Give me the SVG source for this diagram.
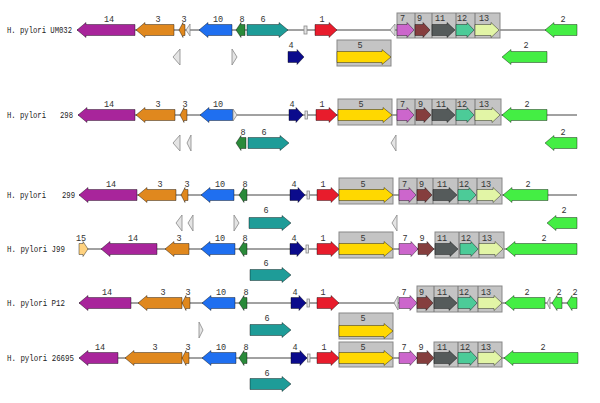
<svg xmlns="http://www.w3.org/2000/svg" width="600" height="403" viewBox="0 0 600 403">
<style>
.bg{fill:#fff}
.bb{stroke:#444;stroke-width:1;fill:none}
.a{stroke:#000;stroke-opacity:.5;stroke-width:.8}
.c14{fill:#a8259b}.c3{fill:#e0881e}.c10{fill:#1f6ff0}.c8{fill:#2a8a3a}.c6{fill:#1e9c98}
.c4{fill:#0b0b8c}.c1{fill:#e81c2c}.c5{fill:#ffd800}.c7{fill:#cc66cc}.c9{fill:#853e3e}
.c11{fill:#555b5b}.c12{fill:#4ccb98}.c13{fill:#e2f5a6}.c2{fill:#44ee44}.c15{fill:#ffd27f}
.h{fill:#e4e4e4;stroke:#888;stroke-width:.8}
.bx{fill:#c4c4c4;stroke:#888;stroke-width:1}
.dv{stroke:#777;stroke-width:1}
.n{font-family:"Liberation Mono","DejaVu Sans Mono",monospace;font-size:8.5px;fill:#333;text-anchor:middle}
.s{font-family:"Liberation Mono","DejaVu Sans Mono",monospace;font-size:8.5px;fill:#333;text-anchor:start}
.sp{font-family:"Liberation Mono","DejaVu Sans Mono",monospace;font-size:9px;fill:#222}
</style>
<rect class="bg" width="600" height="403"/>
<g id="connectors">
<line class="bb" x1="77" y1="30" x2="577" y2="30"/>
<line class="bb" x1="78" y1="115" x2="577" y2="115"/>
<line class="bb" x1="79" y1="195" x2="577" y2="195"/>
<line class="bb" x1="79" y1="249" x2="577" y2="249"/>
<line class="bb" x1="79" y1="303" x2="577" y2="303"/>
<line class="bb" x1="79" y1="358" x2="578" y2="358"/>
</g>

<g id="row-UM032">
<text class="sp" x="7" y="33" textLength="65" lengthAdjust="spacingAndGlyphs">H. pylori UM032</text>
<g id="r1-14"><path class="a c14" d="M77,30 l9,-7.5 v2 H135 v11 H86 v2 z"/><text class="n" x="109" y="22">14</text></g>
<g id="r1-3"><path class="a c3" d="M136,30 l9,-7.5 v2 H174 v11 H145 v2 z"/><text class="n" x="158" y="22">3</text></g>
<g id="r1-3b"><path class="a c3" d="M179,30 l4,-7.5 v2 H185 v11 H183 v2 z"/><text class="n" x="184" y="22">3</text></g>
<g id="r1-h1"><path class="h" d="M186,30 l4,-6 v12 z"/></g>
<g id="r1-10"><path class="a c10" d="M199,30 l9,-7.5 v2 H232 v11 H208 v2 z"/><text class="n" x="218" y="22">10</text></g>
<g id="r1-8"><path class="a c8" d="M236,30 l5,-7.5 v2 H245 v11 H241 v2 z"/><text class="n" x="242" y="22">8</text></g>
<g id="r1-6"><path class="a c6" d="M247,24.5 H279 v-2 l9,7.5 l-9,7.5 v-2 H247 z"/><text class="n" x="263" y="22">6</text></g>
<g id="r1-r"><rect class="h" x="304" y="26" width="3" height="8"/></g>
<g id="r1-1"><path class="a c1" d="M315,24.5 H329 v-2 l8,7.5 l-8,7.5 v-2 H315 z"/><text class="n" x="322" y="22">1</text></g>
<g id="r1-h2"><path class="h" d="M390,30 l5,-6 v12 z"/></g>
<g id="r1-box">
<rect class="bx" x="397" y="13" width="103" height="25"/>
<line class="dv" x1="415" y1="13" x2="415" y2="38"/><line class="dv" x1="432" y1="13" x2="432" y2="38"/><line class="dv" x1="456" y1="13" x2="456" y2="38"/><line class="dv" x1="475" y1="13" x2="475" y2="38"/>
<path class="a c7" d="M397,24.5 H407 v-2 l7,7.5 l-7,7.5 v-2 H397 z"/><text class="s" x="400" y="21">7</text>
<path class="a c9" d="M415,24.5 H423 v-2 l7,7.5 l-7,7.5 v-2 H415 z"/><text class="s" x="417" y="21">9</text>
<path class="a c11" d="M432,24.5 H447 v-2 l8,7.5 l-8,7.5 v-2 H432 z"/><text class="s" x="435" y="21">11</text>
<path class="a c12" d="M456,24.5 H467 v-2 l7,7.5 l-7,7.5 v-2 H456 z"/><text class="s" x="457" y="21">12</text>
<path class="a c13" d="M475,24.5 H491 v-2 l8,7.5 l-8,7.5 v-2 H475 z"/><text class="s" x="479" y="21">13</text>
</g>
<g id="r1-2"><path class="a c2" d="M545,30 l9,-7.5 v2 H577 v11 H554 v2 z"/><text class="n" x="563" y="22">2</text></g>
<g id="r1b-h1"><path class="h" d="M173,57 l7,-8 v16 z"/></g>
<g id="r1b-h2"><path class="h" d="M237,57 l-5,-8 v16 z"/></g>
<g id="r1b-4"><path class="a c4" d="M288,51.5 H297 v-2 l7,7.5 l-7,7.5 v-2 H288 z"/><text class="n" x="291" y="48">4</text></g>
<g id="r1b-5"><rect class="bx" x="337" y="40" width="54" height="26"/><path class="a c5" d="M337,51.5 H382 v-2 l9,7.5 l-9,7.5 v-2 H337 z"/><text class="n" x="360" y="48">5</text></g>
<g id="r1b-2"><path class="a c2" d="M502,57 l9,-7.5 v2 H547 v11 H511 v2 z"/><text class="n" x="526" y="48">2</text></g>
</g>

<g id="row-298">
<text class="sp" x="7" y="118" textLength="39" lengthAdjust="spacingAndGlyphs">H. pylori</text>
<text class="sp" x="60" y="118" textLength="13" lengthAdjust="spacingAndGlyphs">298</text>
<g id="r2-14"><path class="a c14" d="M78,115 l9,-7.5 v2 H135 v11 H87 v2 z"/><text class="n" x="109" y="107">14</text></g>
<g id="r2-3"><path class="a c3" d="M136,115 l9,-7.5 v2 H175 v11 H145 v2 z"/><text class="n" x="158" y="107">3</text></g>
<g id="r2-3b"><path class="a c3" d="M180,115 l4,-7.5 v2 H187 v11 H184 v2 z"/><text class="n" x="185" y="107">3</text></g>
<g id="r2-10"><path class="a c10" d="M200,115 l9,-7.5 v2 H233 v11 H209 v2 z"/><text class="n" x="218" y="107">10</text></g>
<g id="r2-h1"><path class="h" d="M237,115 l-4,-6 v12 z"/></g>
<g id="r2-4"><path class="a c4" d="M289,109.5 H296 v-2 l7,7.5 l-7,7.5 v-2 H289 z"/><text class="n" x="292" y="107">4</text></g>
<g id="r2-r"><rect class="h" x="305" y="111" width="2.5" height="8"/></g>
<g id="r2-1"><path class="a c1" d="M316,109.5 H329 v-2 l8,7.5 l-8,7.5 v-2 H316 z"/><text class="n" x="322" y="107">1</text></g>
<g id="r2-5"><rect class="bx" x="338" y="99" width="54" height="26"/><path class="a c5" d="M338,109.5 H383 v-2 l9,7.5 l-9,7.5 v-2 H338 z"/><text class="n" x="361" y="107">5</text></g>
<g id="r2-box">
<rect class="bx" x="397" y="99" width="104" height="26"/>
<line class="dv" x1="415" y1="99" x2="415" y2="125"/><line class="dv" x1="432" y1="99" x2="432" y2="125"/><line class="dv" x1="456" y1="99" x2="456" y2="125"/><line class="dv" x1="475" y1="99" x2="475" y2="125"/>
<path class="a c7" d="M397,109.5 H407 v-2 l7,7.5 l-7,7.5 v-2 H397 z"/><text class="s" x="400" y="107">7</text>
<path class="a c9" d="M416,109.5 H424 v-2 l7,7.5 l-7,7.5 v-2 H416 z"/><text class="s" x="418" y="107">9</text>
<path class="a c11" d="M432,109.5 H447 v-2 l8,7.5 l-8,7.5 v-2 H432 z"/><text class="s" x="436" y="107">11</text>
<path class="a c12" d="M456,109.5 H467 v-2 l7,7.5 l-7,7.5 v-2 H456 z"/><text class="s" x="457" y="107">12</text>
<path class="a c13" d="M475,109.5 H492 v-2 l8,7.5 l-8,7.5 v-2 H475 z"/><text class="s" x="479" y="107">13</text>
</g>
<g id="r2-2"><path class="a c2" d="M502,115 l9,-7.5 v2 H547 v11 H511 v2 z"/><text class="n" x="527" y="107">2</text></g>
<g id="r2b-h1"><path class="h" d="M173,143 l7,-8 v16 z"/></g>
<g id="r2b-h2"><path class="h" d="M187,143 l4,-8 v16 z"/></g>
<g id="r2b-8"><path class="a c8" d="M236,143 l5,-7.5 v2 H246 v11 H241 v2 z"/><text class="n" x="243" y="135">8</text></g>
<g id="r2b-6"><path class="a c6" d="M248,137.5 H280 v-2 l9,7.5 l-9,7.5 v-2 H248 z"/><text class="n" x="264" y="135">6</text></g>
<g id="r2b-h3"><path class="h" d="M391,143 l5,-8 v16 z"/></g>
<g id="r2b-2"><path class="a c2" d="M545,143 l9,-7.5 v2 H577 v11 H554 v2 z"/><text class="n" x="563" y="135">2</text></g>
</g>

<g id="row-299">
<text class="sp" x="7" y="198" textLength="39" lengthAdjust="spacingAndGlyphs">H. pylori</text>
<text class="sp" x="62" y="198" textLength="13" lengthAdjust="spacingAndGlyphs">299</text>
<g id="r3-14"><path class="a c14" d="M79,195 l9,-7.5 v2 H137 v11 H88 v2 z"/><text class="n" x="111" y="187">14</text></g>
<g id="r3-3"><path class="a c3" d="M138,195 l9,-7.5 v2 H176 v11 H147 v2 z"/><text class="n" x="160" y="187">3</text></g>
<g id="r3-3b"><path class="a c3" d="M181,195 l4,-7.5 v2 H188 v11 H185 v2 z"/><text class="n" x="187" y="187">3</text></g>
<g id="r3-10"><path class="a c10" d="M201,195 l9,-7.5 v2 H234 v11 H210 v2 z"/><text class="n" x="220" y="187">10</text></g>
<g id="r3-8"><path class="a c8" d="M239,195 l5,-7.5 v2 H247 v11 H244 v2 z"/><text class="n" x="245" y="187">8</text></g>
<g id="r3-4"><path class="a c4" d="M290,189.5 H298 v-2 l7,7.5 l-7,7.5 v-2 H290 z"/><text class="n" x="294" y="187">4</text></g>
<g id="r3-r"><rect class="h" x="307" y="191" width="2.5" height="8"/></g>
<g id="r3-1"><path class="a c1" d="M317,189.5 H331 v-2 l8,7.5 l-8,7.5 v-2 H317 z"/><text class="n" x="323" y="187">1</text></g>
<g id="r3-5"><rect class="bx" x="339" y="178" width="54" height="26"/><path class="a c5" d="M339,189.5 H384 v-2 l9,7.5 l-9,7.5 v-2 H339 z"/><text class="n" x="363" y="187">5</text></g>
<g id="r3-box">
<rect class="bx" x="399" y="178" width="103" height="26"/>
<line class="dv" x1="417" y1="178" x2="417" y2="204"/><line class="dv" x1="433" y1="178" x2="433" y2="204"/><line class="dv" x1="458" y1="178" x2="458" y2="204"/><line class="dv" x1="477" y1="178" x2="477" y2="204"/>
<path class="a c7" d="M399,189.5 H409 v-2 l7,7.5 l-7,7.5 v-2 H399 z"/><text class="s" x="402" y="187">7</text>
<path class="a c9" d="M417,189.5 H425 v-2 l7,7.5 l-7,7.5 v-2 H417 z"/><text class="s" x="419" y="187">9</text>
<path class="a c11" d="M433,189.5 H449 v-2 l8,7.5 l-8,7.5 v-2 H433 z"/><text class="s" x="437" y="187">11</text>
<path class="a c12" d="M458,189.5 H469 v-2 l7,7.5 l-7,7.5 v-2 H458 z"/><text class="s" x="459" y="187">12</text>
<path class="a c13" d="M477,189.5 H493 v-2 l8,7.5 l-8,7.5 v-2 H477 z"/><text class="s" x="481" y="187">13</text>
</g>
<g id="r3-2"><path class="a c2" d="M503,195 l9,-7.5 v2 H548 v11 H512 v2 z"/><text class="n" x="528" y="187">2</text></g>
<g id="r3b-h1"><path class="h" d="M176,223 l6,-8 v16 z"/></g>
<g id="r3b-h2"><path class="h" d="M188,223 l5,-8 v16 z"/></g>
<g id="r3b-h3"><path class="h" d="M239,223 l-5,-8 v16 z"/></g>
<g id="r3b-6"><path class="a c6" d="M249,217.5 H282 v-2 l9,7.5 l-9,7.5 v-2 H249 z"/><text class="n" x="266" y="213">6</text></g>
<g id="r3b-h4"><path class="h" d="M392,223 l5,-8 v16 z"/></g>
<g id="r3b-2"><path class="a c2" d="M547,223 l9,-7.5 v2 H577 v11 H556 v2 z"/><text class="n" x="564" y="213">2</text></g>
</g>

<g id="row-J99">
<text class="sp" x="7" y="252" textLength="58" lengthAdjust="spacingAndGlyphs">H. pylori J99</text>
<g id="r4-15"><path class="a c15" d="M79,243.5 H83 v-2 l5,7.5 l-5,7.5 v-2 H79 z"/><text class="n" x="81" y="241">15</text></g>
<g id="r4-14"><path class="a c14" d="M101,249 l9,-7.5 v2 H157 v11 H110 v2 z"/><text class="n" x="133" y="241">14</text></g>
<g id="r4-3"><path class="a c3" d="M165,249 l9,-7.5 v2 H189 v11 H174 v2 z"/><text class="n" x="179" y="241">3</text></g>
<g id="r4-10"><path class="a c10" d="M201,249 l9,-7.5 v2 H235 v11 H210 v2 z"/><text class="n" x="220" y="241">10</text></g>
<g id="r4-8"><path class="a c8" d="M239,249 l5,-7.5 v2 H247 v11 H244 v2 z"/><text class="n" x="245" y="241">8</text></g>
<g id="r4-4"><path class="a c4" d="M290,243.5 H297 v-2 l7,7.5 l-7,7.5 v-2 H290 z"/><text class="n" x="294" y="241">4</text></g>
<g id="r4-r"><rect class="h" x="306" y="245" width="2.5" height="8"/></g>
<g id="r4-1"><path class="a c1" d="M317,243.5 H331 v-2 l8,7.5 l-8,7.5 v-2 H317 z"/><text class="n" x="323" y="241">1</text></g>
<g id="r4-5"><rect class="bx" x="339" y="232" width="54" height="26"/><path class="a c5" d="M339,243.5 H384 v-2 l9,7.5 l-9,7.5 v-2 H339 z"/><text class="n" x="363" y="241">5</text></g>
<g id="r4-7"><path class="a c7" d="M399,243.5 H411 v-2 l7,7.5 l-7,7.5 v-2 H399 z"/><text class="n" x="405" y="241">7</text></g>
<g id="r4-9"><path class="a c9" d="M418,243.5 H427 v-2 l7,7.5 l-7,7.5 v-2 H418 z"/><text class="n" x="422" y="241">9</text></g>
<g id="r4-box">
<rect class="bx" x="435" y="232" width="69" height="26"/>
<line class="dv" x1="459" y1="232" x2="459" y2="258"/><line class="dv" x1="479" y1="232" x2="479" y2="258"/>
<path class="a c11" d="M435,243.5 H450 v-2 l8,7.5 l-8,7.5 v-2 H435 z"/><text class="s" x="437" y="241">11</text>
<path class="a c12" d="M460,243.5 H471 v-2 l7,7.5 l-7,7.5 v-2 H460 z"/><text class="s" x="461" y="241">12</text>
<path class="a c13" d="M479,243.5 H495 v-2 l8,7.5 l-8,7.5 v-2 H479 z"/><text class="s" x="482" y="241">13</text>
</g>
<g id="r4-2"><path class="a c2" d="M506,249 l9,-7.5 v2 H577 v11 H515 v2 z"/><text class="n" x="544" y="241">2</text></g>
<g id="r4b-6"><path class="a c6" d="M250,269.5 H282 v-2 l9,7.5 l-9,7.5 v-2 H250 z"/><text class="n" x="266" y="266">6</text></g>
</g>

<g id="row-P12">
<text class="sp" x="7" y="306" textLength="58" lengthAdjust="spacingAndGlyphs">H. pylori P12</text>
<g id="r5-14"><path class="a c14" d="M79,303 l9,-7.5 v2 H131 v11 H88 v2 z"/><text class="n" x="107" y="295">14</text></g>
<g id="r5-3"><path class="a c3" d="M138,303 l9,-7.5 v2 H182 v11 H147 v2 z"/><text class="n" x="163" y="295">3</text></g>
<g id="r5-3b"><path class="a c3" d="M182,303 l4,-7.5 v2 H190 v11 H186 v2 z"/><text class="n" x="188" y="295">3</text></g>
<g id="r5-10"><path class="a c10" d="M202,303 l9,-7.5 v2 H235 v11 H211 v2 z"/><text class="n" x="221" y="295">10</text></g>
<g id="r5-8"><path class="a c8" d="M239,303 l5,-7.5 v2 H247 v11 H244 v2 z"/><text class="n" x="246" y="295">8</text></g>
<g id="r5-4"><path class="a c4" d="M291,297.5 H299 v-2 l7,7.5 l-7,7.5 v-2 H291 z"/><text class="n" x="295" y="295">4</text></g>
<g id="r5-r"><rect class="h" x="307" y="299" width="2.5" height="8"/></g>
<g id="r5-1"><path class="a c1" d="M317,297.5 H331 v-2 l8,7.5 l-8,7.5 v-2 H317 z"/><text class="n" x="323" y="295">1</text></g>
<g id="r5-h1"><path class="h" d="M394,303 l4,-7 v14 z"/></g>
<g id="r5-7"><path class="a c7" d="M399,297.5 H410 v-2 l7,7.5 l-7,7.5 v-2 H399 z"/><text class="n" x="404" y="295">7</text></g>
<g id="r5-box">
<rect class="bx" x="417" y="286" width="85" height="26"/>
<line class="dv" x1="434" y1="286" x2="434" y2="312"/><line class="dv" x1="458" y1="286" x2="458" y2="312"/><line class="dv" x1="478" y1="286" x2="478" y2="312"/>
<path class="a c9" d="M417,297.5 H426 v-2 l7,7.5 l-7,7.5 v-2 H417 z"/><text class="s" x="419" y="295">9</text>
<path class="a c11" d="M434,297.5 H449 v-2 l8,7.5 l-8,7.5 v-2 H434 z"/><text class="s" x="437" y="295">11</text>
<path class="a c12" d="M458,297.5 H470 v-2 l7,7.5 l-7,7.5 v-2 H458 z"/><text class="s" x="459" y="295">12</text>
<path class="a c13" d="M478,297.5 H494 v-2 l8,7.5 l-8,7.5 v-2 H478 z"/><text class="s" x="481" y="295">13</text>
</g>
<g id="r5-2a"><path class="a c2" d="M505,303 l9,-7.5 v2 H545 v11 H514 v2 z"/><text class="n" x="527" y="295">2</text></g>
<g id="r5-h2"><path class="h" d="M547,303 l3,-6 v12 z"/></g>
<g id="r5-2b"><path class="a c2" d="M552,303 l5,-7.5 v2 H562 v11 H557 v2 z"/><text class="n" x="559" y="295">2</text></g>
<g id="r5-2c"><path class="a c2" d="M567,303 l5,-7.5 v2 H577 v11 H572 v2 z"/><text class="n" x="575" y="295">2</text></g>
<g id="r5b-h1"><path class="h" d="M203,330 l-4,-8 v16 z"/></g>
<g id="r5b-6"><path class="a c6" d="M250,324.5 H282 v-2 l9,7.5 l-9,7.5 v-2 H250 z"/><text class="n" x="267" y="321">6</text></g>
<g id="r5b-5"><rect class="bx" x="339" y="313" width="54" height="26"/><path class="a c5" d="M339,325.5 H384 v-2 l9,7.5 l-9,7.5 v-2 H339 z"/><text class="n" x="363" y="321">5</text></g>
</g>

<g id="row-26695">
<text class="sp" x="7" y="361" textLength="67" lengthAdjust="spacingAndGlyphs">H. pylori 26695</text>
<g id="r6-14"><path class="a c14" d="M79,358 l9,-7.5 v2 H118 v11 H88 v2 z"/><text class="n" x="100" y="350">14</text></g>
<g id="r6-3"><path class="a c3" d="M125,358 l9,-7.5 v2 H182 v11 H134 v2 z"/><text class="n" x="155" y="350">3</text></g>
<g id="r6-3b"><path class="a c3" d="M182,358 l4,-7.5 v2 H189 v11 H186 v2 z"/><text class="n" x="188" y="350">3</text></g>
<g id="r6-10"><path class="a c10" d="M202,358 l9,-7.5 v2 H236 v11 H211 v2 z"/><text class="n" x="221" y="350">10</text></g>
<g id="r6-8"><path class="a c8" d="M239,358 l5,-7.5 v2 H247 v11 H244 v2 z"/><text class="n" x="246" y="350">8</text></g>
<g id="r6-4"><path class="a c4" d="M291,352.5 H300 v-2 l7,7.5 l-7,7.5 v-2 H291 z"/><text class="n" x="295" y="350">4</text></g>
<g id="r6-r"><rect class="h" x="307.5" y="354" width="2.5" height="8"/></g>
<g id="r6-1"><path class="a c1" d="M317,352.5 H331 v-2 l8,7.5 l-8,7.5 v-2 H317 z"/><text class="n" x="324" y="350">1</text></g>
<g id="r6-5"><rect class="bx" x="339" y="342" width="54" height="25"/><path class="a c5" d="M339,352.5 H384 v-2 l9,7.5 l-9,7.5 v-2 H339 z"/><text class="n" x="363" y="350">5</text></g>
<g id="r6-7"><path class="a c7" d="M399,352.5 H410 v-2 l7,7.5 l-7,7.5 v-2 H399 z"/><text class="n" x="404" y="350">7</text></g>
<g id="r6-9"><path class="a c9" d="M417,352.5 H427 v-2 l7,7.5 l-7,7.5 v-2 H417 z"/><text class="n" x="421" y="350">9</text></g>
<g id="r6-box">
<rect class="bx" x="434" y="342" width="68" height="25"/>
<line class="dv" x1="458" y1="342" x2="458" y2="367"/><line class="dv" x1="478" y1="342" x2="478" y2="367"/>
<path class="a c11" d="M434,352.5 H449 v-2 l8,7.5 l-8,7.5 v-2 H434 z"/><text class="s" x="437" y="350">11</text>
<path class="a c12" d="M458,352.5 H470 v-2 l7,7.5 l-7,7.5 v-2 H458 z"/><text class="s" x="460" y="350">12</text>
<path class="a c13" d="M478,352.5 H494 v-2 l8,7.5 l-8,7.5 v-2 H478 z"/><text class="s" x="481" y="350">13</text>
</g>
<g id="r6-2"><path class="a c2" d="M504,358 l9,-7.5 v2 H578 v11 H513 v2 z"/><text class="n" x="543" y="350">2</text></g>
<g id="r6b-6"><path class="a c6" d="M250,378.5 H282 v-2 l9,7.5 l-9,7.5 v-2 H250 z"/><text class="n" x="267" y="376">6</text></g>
</g>
</svg>
